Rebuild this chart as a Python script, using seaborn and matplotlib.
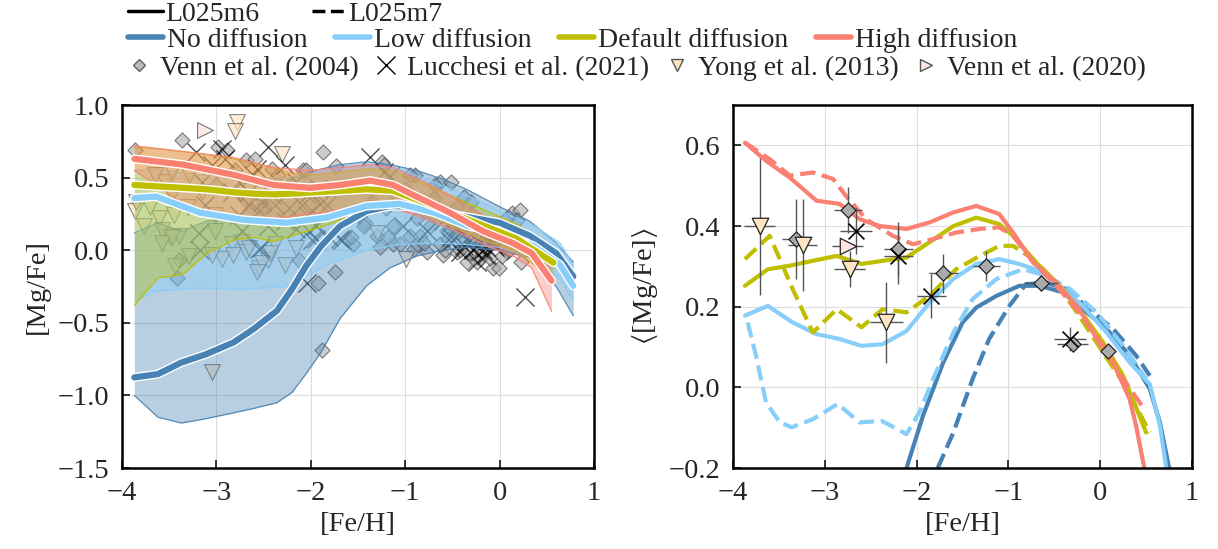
import numpy as np
import pandas as pd
import seaborn as sns
import matplotlib.pyplot as plt
import matplotlib.patheffects as pe
from matplotlib.lines import Line2D

sns.set_theme(style='ticks')
plt.rcParams['font.family'] = ['Liberation Serif', 'DejaVu Serif']
plt.rcParams['mathtext.fontset'] = 'stix'
FS = 20.5
plt.rcParams['font.size'] = FS

c_no, c_low, c_def, c_high = '#4682b4', '#87cefa', '#bfbf00', '#fa8072'

# ---------------- left panel: median + 16/84 band per model ----------------
no_x = [-3.87, -3.62, -3.37, -3.11, -2.82, -2.61, -2.36, -2.2, -2.05, -1.89, -1.69, -1.41, -1.16, -0.88, -0.6, -0.35, 0.0, 0.32, 0.6, 0.78]
no_med = [-0.876, -0.853, -0.773, -0.716, -0.635, -0.544, -0.417, -0.268, -0.108, 0.03, 0.167, 0.27, 0.305, 0.30, 0.26, 0.23, 0.19, 0.10, -0.02, -0.18]
no_lo = [-1.0, -1.15, -1.19, -1.16, -1.12, -1.09, -1.05, -0.98, -0.85, -0.70, -0.47, -0.245, -0.12, -0.04, 0.0, 0.02, 0.0, -0.05, -0.25, -0.45]
no_hi = [0.12, 0.19, 0.13, 0.2, 0.22, 0.3, 0.42, 0.5, 0.53, 0.56, 0.59, 0.61, 0.59, 0.55, 0.49, 0.42, 0.3, 0.2, 0.05, -0.08]

low_x = [-3.87, -3.64, -3.18, -2.72, -2.26, -1.83, -1.41, -1.06, -0.70, -0.35, 0.0, 0.36, 0.64, 0.78]
low_med = [0.36, 0.37, 0.26, 0.21, 0.19, 0.225, 0.305, 0.32, 0.26, 0.17, 0.12, 0.03, -0.1, -0.245]
low_lo = [-0.35, -0.28, -0.26, -0.27, -0.25, -0.1, 0.0, 0.04, 0.05, 0.04, 0.02, -0.05, -0.2, -0.35]
low_hi = [0.55, 0.56, 0.52, 0.5, 0.5, 0.55, 0.58, 0.56, 0.47, 0.38, 0.27, 0.17, 0.05, -0.1]

def_x = [-3.87, -3.62, -3.35, -3.1, -2.82, -2.6, -2.4, -2.2, -1.94, -1.41, -1.13, -0.88, -0.53, -0.17, 0.18, 0.57]
def_med = [0.45, 0.44, 0.43, 0.42, 0.40, 0.39, 0.385, 0.39, 0.40, 0.42, 0.41, 0.35, 0.26, 0.17, 0.08, -0.085]
def_lo = [-0.38, -0.19, -0.165, -0.02, 0.07, 0.09, 0.06, 0.1, 0.15, 0.27, 0.3, 0.27, 0.17, 0.07, -0.01, -0.2]
def_hi = [0.71, 0.70, 0.68, 0.66, 0.63, 0.60, 0.57, 0.53, 0.52, 0.56, 0.55, 0.48, 0.38, 0.28, 0.18, 0.02]

high_x = [-3.87, -3.35, -2.82, -2.4, -2.01, -1.69, -1.37, -1.13, -0.88, -0.53, -0.17, 0.14, 0.34, 0.55]
high_med = [0.63, 0.59, 0.52, 0.45, 0.43, 0.45, 0.48, 0.45, 0.37, 0.26, 0.13, 0.05, -0.02, -0.21]
high_lo = [0.55, 0.32, 0.2, 0.22, 0.25, 0.28, 0.30, 0.29, 0.24, 0.15, 0.04, -0.04, -0.12, -0.42]
high_hi = [0.72, 0.68, 0.64, 0.57, 0.55, 0.57, 0.59, 0.57, 0.50, 0.38, 0.24, 0.14, 0.08, -0.05]

# ---------------- left panel: observed stars ----------------
venn04_feh = [-3.36, -3.86, -2.98, -2.89, -2.69, -2.59, -2.41, -2.08, -1.87, -2.05, -1.73, -1.25, -0.90, -0.63, -0.51, -0.38, -0.30,
              -3.40, -3.42, -2.13, -1.74, -1.92, -1.88,
              -1.43, -1.30, -1.13, -1.27, -1.55, -1.62, -0.91, -0.77, -0.60, -0.45, -0.35, -0.21, -0.07,
              -1.48, -1.20, -1.13, -0.88, -0.74, -0.63, -0.56, -0.95,
              0.13, 0.22, 0.18, 0.09, 0.23, -0.01, -0.10, -0.17, -0.24, -0.31, -0.42, -0.58, 0.08, -0.19, 0.02,
              -1.66, -1.44, -1.57, -1.18, -1.06, -0.88, -0.63, -0.84, -0.72, -0.49, -0.37, -0.95, -0.68, -1.23,
              -2.7, -2.5, -2.2, -2.35, -3.0, -2.8, -0.15, -0.05, 0.05, -0.25,
              -0.8, -0.55, -0.45, -0.3, -0.12, -0.02, -1.0, -0.7, -0.4, -0.2, 0.1, -1.35, -1.1]
venn04_mgfe = [0.76, 0.69, 0.71, 0.69, 0.62, 0.63, 0.56, 0.55, 0.68, 0.55, 0.58, 0.61, 0.52, 0.47, 0.47, 0.37, 0.33,
               -0.07, -0.19, -0.07, -0.148, -0.228, -0.687,
               0.19, 0.10, 0.04, 0.02, 0.04, 0.08, 0.01, -0.01, -0.03, -0.01, -0.08, -0.06, -0.12,
               0.24, 0.29, 0.17, 0.22, 0.17, 0.24, 0.13, 0.10,
               0.254, 0.277, 0.208, 0.23, -0.079, -0.125, -0.056, -0.01, -0.08, -0.01, 0.0, 0.0, -0.01, 0.04, -0.04,
               0.24, 0.17, 0.09, 0.09, 0.04, 0.04, 0.04, 0.10, 0.24, 0.17, 0.20, 0.52, 0.45, 0.59,
               0.35, 0.30, 0.45, 0.52, 0.45, 0.55, 0.02, 0.06, 0.03, 0.05,
               0.05, 0.08, 0.3, 0.25, 0.12, 0.08, 0.42, 0.36, 0.1, 0.18, 0.0, 0.33, 0.38]

lucchesi_feh = [-3.22, -2.94, -2.91, -2.45, -2.27, -3.19, -3.17, -2.57, -2.61, -3.05, -2.76, -2.66, -2.52, -2.38, -2.23, -2.09, -1.99,
                -2.76, -2.55, -2.45, -2.27, -2.16, -2.02, -1.95, -2.55, -2.73, -3.12, -3.15, -2.83, -2.34, -2.16, -2.04, -1.92,
                -2.66, -2.41, -1.37, -1.23, -1.16, -1.90, -1.83, -2.01, -1.69, -1.02, -0.77, -2.04, -1.95,
                -0.42, -0.28, -0.14, -0.35, -0.07, -0.52, -0.24, 0.27, -0.52, -0.42, -0.31, -0.21, -0.14, -0.35, -0.52,
                -0.28, -0.10, -2.53, -2.04, -1.99, -1.81, -1.67,
                -0.6, -0.45, -0.2, -0.05, -0.38, -0.18]
lucchesi_mgfe = [0.68, 0.70, 0.63, 0.71, 0.59, 0.12, 0.0, 0.56, 0.52, 0.59, 0.47, 0.31, 0.33, 0.31, 0.29, 0.31, 0.27,
                 0.24, 0.27, 0.17, 0.20, 0.15, 0.13, 0.08, 0.01, 0.13, 0.31, 0.47, 0.40, 0.43, 0.47, 0.38, 0.43,
                 0.40, 0.38, 0.64, 0.54, 0.51, 0.32, 0.31, 0.40, 0.08, 0.17, 0.13, 0.24, 0.17,
                 -0.01, 0.01, -0.03, 0.08, 0.04, 0.06, -0.08, -0.32, 0.185, 0.116, 0.07, 0.047, 0.024, 0.139, 0.093,
                 0.0, 0.07, 0.013, -0.228, 0.07, 0.09, 0.07,
                 0.2, 0.16, 0.1, 0.02, 0.03, 0.0]

yong_feh = [-2.78, -2.80, -2.31, -3.86, -3.77, -3.61, -3.45, -3.49, -3.40, -3.58, -3.29, -3.01, -2.94, -3.05, -2.83, -2.73,
            -2.69, -2.55, -2.45, -2.27, -2.38, -3.65, -3.54, -3.47, -3.29, -3.15, -3.47, -3.01, -3.58, -3.47, -2.82,
            -2.66, -2.52, -2.57, -2.43, -2.16, -3.05, -3.44, -1.30, -0.99, -3.85, -3.70, -3.30]
yong_mgfe = [0.885, 0.82, 0.66, 0.27, 0.17, 0.22, 0.24, 0.09, 0.10, 0.14, -0.04, 0.13, -0.06, -0.03, 0.04, 0.06,
             -0.01, -0.12, -0.07, -0.10, 0.04, 0.52, 0.47, 0.54, 0.52, 0.40, 0.38, 0.24, 0.047, 0.093, -0.033,
             0.013, -0.09, -0.148, -0.02, 0.013, -0.837, -0.11, 0.116, -0.06, 0.33, 0.30, 0.30]

venn20_feh = [-3.12]
venn20_mgfe = [0.83]

# ---------------- right panel: mean [Mg/Fe] per model ----------------
r_high6_x = [-3.87, -3.64, -3.38, -3.09, -2.84, -2.62, -2.40, -2.11, -1.86, -1.60, -1.35, -1.10, -0.95, -0.73, -0.48, -0.23, -0.01, 0.14, 0.32, 0.39, 0.48]
r_high6_y = [0.607, 0.562, 0.52, 0.463, 0.455, 0.417, 0.40, 0.393, 0.409, 0.434, 0.45, 0.43, 0.384, 0.31, 0.26, 0.194, 0.11, 0.062, -0.029, -0.095, -0.2]
r_high7_x = [-3.87, -3.60, -3.38, -3.13, -2.91, -2.77, -2.55, -2.26, -2.04, -1.82, -1.57, -1.31, -1.10, -0.95, -0.73, -0.48, -0.23, 0.03, 0.25, 0.48]
r_high7_y = [0.607, 0.566, 0.525, 0.533, 0.517, 0.475, 0.417, 0.376, 0.355, 0.368, 0.384, 0.393, 0.397, 0.376, 0.31, 0.252, 0.186, 0.103, 0.021, -0.054]
r_def6_x = [-3.87, -3.62, -3.38, -3.13, -2.87, -2.60, -2.37, -2.11, -1.86, -1.60, -1.35, -1.10, -0.95, -0.70, -0.44, -0.23, 0.03, 0.25, 0.50]
r_def6_y = [0.252, 0.293, 0.302, 0.314, 0.326, 0.306, 0.314, 0.322, 0.36, 0.40, 0.421, 0.405, 0.376, 0.31, 0.252, 0.194, 0.112, 0.029, -0.112]
r_def7_x = [-3.87, -3.60, -3.35, -3.13, -2.87, -2.60, -2.37, -2.11, -1.86, -1.57, -1.31, -1.10, -0.95, -0.73, -0.48, -0.23, 0.03, 0.25, 0.54]
r_def7_y = [0.318, 0.376, 0.244, 0.136, 0.194, 0.149, 0.194, 0.186, 0.227, 0.293, 0.326, 0.351, 0.351, 0.318, 0.26, 0.178, 0.087, 0.012, -0.112]
r_low6_x = [-3.87, -3.62, -3.35, -3.09, -2.84, -2.60, -2.37, -2.11, -1.86, -1.60, -1.35, -1.10, -0.88, -0.66, -0.44, -0.19, 0.07, 0.32, 0.54, 0.65, 0.72]
r_low6_y = [0.178, 0.202, 0.161, 0.132, 0.12, 0.103, 0.107, 0.14, 0.21, 0.269, 0.306, 0.318, 0.306, 0.289, 0.252, 0.202, 0.136, 0.062, 0.008, -0.095, -0.2]
r_low7_x = [-3.84, -3.75, -3.64, -3.49, -3.36, -3.13, -2.86, -2.62, -2.38, -2.11, -1.97, -1.82, -1.60, -1.39, -1.13, -0.84, -0.59, -0.33, -0.04, 0.25, 0.50]
r_low7_y = [0.161, 0.079, -0.037, -0.087, -0.099, -0.079, -0.041, -0.087, -0.083, -0.116, -0.062, 0.021, 0.136, 0.219, 0.269, 0.293, 0.277, 0.244, 0.186, 0.103, 0.021]
r_no6_x = [-2.11, -1.93, -1.71, -1.50, -1.35, -1.13, -0.88, -0.66, -0.41, -0.19, 0.07, 0.32, 0.54, 0.65, 0.75]
r_no6_y = [-0.2, -0.07, 0.062, 0.161, 0.198, 0.227, 0.252, 0.252, 0.236, 0.194, 0.145, 0.079, -0.004, -0.087, -0.2]
r_no7_x = [-1.77, -1.60, -1.39, -1.21, -0.99, -0.81, -0.59, -0.37, -0.12, 0.14, 0.39, 0.54]
r_no7_y = [-0.2, -0.112, 0.021, 0.12, 0.202, 0.256, 0.26, 0.244, 0.194, 0.145, 0.079, 0.029]

# ---------------- right panel: observed means with errors ----------------
r_venn04_x = [-3.31, -2.75, -2.20, -1.71, -1.24, -0.64, -0.30, 0.08]
r_venn04_y = [0.368, 0.44, 0.343, 0.283, 0.302, 0.259, 0.107, 0.091]
r_venn04_xe = [0.16, 0.15, 0.16, 0.16, 0.15, 0.18, 0.17, 0.07]
r_venn04_ye = [0.10, 0.056, 0.068, 0.048, 0.037, 0.02, 0.02, 0.015]
r_luc_x = [-2.66, -2.20, -1.84, -0.33]
r_luc_y = [0.388, 0.326, 0.227, 0.12]
r_luc_xe = [0.17, 0.16, 0.16, 0.17]
r_luc_ye = [0.058, 0.07, 0.054, 0.03]
r_yong_x = [-3.71, -3.24, -2.73, -2.33]
r_yong_y = [0.40, 0.353, 0.293, 0.161]
r_yong_xe = [0.17, 0.16, 0.17, 0.18]
r_yong_ye = [0.17, 0.115, 0.045, 0.10]
r_venn20_x = [-2.75]
r_venn20_y = [0.351]
r_venn20_xe = [0.17]
r_venn20_ye = [0.0]

fig = plt.figure(figsize=(12.18, 5.49), dpi=100)
ax1 = fig.add_axes([0.1002, 0.1475, 0.3875, 0.661])
ax2 = fig.add_axes([0.6018, 0.1475, 0.3769, 0.661])

# scatter of individual stars (below the bands)
sns.scatterplot(x=venn04_feh, y=venn04_mgfe, marker='D', s=60, color='#aaaaaa', edgecolor='#333333',
                linewidth=0.8, alpha=0.6, ax=ax1, zorder=1)
sns.scatterplot(x=yong_feh, y=yong_mgfe, marker='v', s=130, color='bisque', edgecolor='#555555',
                linewidth=0.8, alpha=0.7, ax=ax1, zorder=1)
sns.scatterplot(x=venn20_feh, y=venn20_mgfe, marker='>', s=130, color='mistyrose', edgecolor='#555555',
                linewidth=0.8, alpha=0.8, ax=ax1, zorder=1)
sns.scatterplot(x=lucchesi_feh, y=lucchesi_mgfe, marker='x', s=170, color='black',
                linewidth=1.0, alpha=0.7, ax=ax1, zorder=1)

models = [(no_x, no_med, no_lo, no_hi, c_no), (low_x, low_med, low_lo, low_hi, c_low),
          (def_x, def_med, def_lo, def_hi, c_def), (high_x, high_med, high_lo, high_hi, c_high)]
for xs, med, lo, hi, col in models:
    ax1.fill_between(xs, lo, hi, color=col, alpha=0.38, lw=0, zorder=2)
    ax1.plot(xs, lo, color=col, lw=0.9, alpha=0.9, zorder=2)
    ax1.plot(xs, hi, color=col, lw=0.9, alpha=0.9, zorder=2)
halo = [pe.Stroke(linewidth=6.5, foreground='white'), pe.Normal()]
for xs, med, lo, hi, col in models:
    sns.lineplot(x=xs, y=med, color=col, lw=4.5, ax=ax1, zorder=3, path_effects=halo, legend=False)

# right panel lines
right_lines = [(r_no6_x, r_no6_y, c_no, '-'), (r_no7_x, r_no7_y, c_no, '--'),
               (r_low6_x, r_low6_y, c_low, '-'), (r_low7_x, r_low7_y, c_low, '--'),
               (r_def6_x, r_def6_y, c_def, '-'), (r_def7_x, r_def7_y, c_def, '--'),
               (r_high6_x, r_high6_y, c_high, '-'), (r_high7_x, r_high7_y, c_high, '--')]
for xs, ys, col, ls in right_lines:
    sns.lineplot(x=xs, y=ys, color=col, lw=3, linestyle=ls, ax=ax2, zorder=2, legend=False)

obs = [(r_venn04_x, r_venn04_y, r_venn04_xe, r_venn04_ye, 'D', '#aaaaaa', 60),
       (r_yong_x, r_yong_y, r_yong_xe, r_yong_ye, 'v', 'bisque', 140),
       (r_venn20_x, r_venn20_y, r_venn20_xe, r_venn20_ye, '>', 'mistyrose', 140)]
for xs, ys, xe, ye, mk, fc, s in obs:
    ax2.errorbar(xs, ys, xerr=xe, yerr=ye, fmt='none', ecolor='#555555', elinewidth=1, zorder=3)
    sns.scatterplot(x=xs, y=ys, marker=mk, s=s, color=fc, edgecolor='#222222', linewidth=0.9, ax=ax2, zorder=4)
ax2.errorbar(r_luc_x, r_luc_y, xerr=r_luc_xe, yerr=r_luc_ye, fmt='none', ecolor='#555555', elinewidth=1, zorder=3)
sns.scatterplot(x=r_luc_x, y=r_luc_y, marker='x', s=130, color='black', linewidth=1.2, ax=ax2, zorder=4)

for ax in (ax1, ax2):
    ax.set_xlim(-4, 1)
    ax.set_xticks([-4, -3, -2, -1, 0, 1])
    ax.set_xticklabels(['\u22124', '\u22123', '\u22122', '\u22121', '0', '1'])
    ax.grid(True, color='#dddddd', lw=0.8, zorder=0)
    ax.set_axisbelow(True)
    ax.tick_params(direction='in', length=6, width=1.3, labelsize=FS, pad=9)
    for sp in ax.spines.values():
        sp.set_linewidth(1.8)
        sp.set_color('black')
    ax.set_xlabel('[Fe/H]', fontsize=FS, labelpad=5)

ax1.set_ylim(-1.5, 1.0)
ax1.set_yticks([-1.5, -1.0, -0.5, 0.0, 0.5, 1.0])
ax1.set_yticklabels(['\u22121.5', '\u22121.0', '\u22120.5', '0.0', '0.5', '1.0'])
ax1.set_ylabel('[Mg/Fe]', fontsize=FS, labelpad=6)
ax2.set_ylim(-0.2, 0.7)
ax2.set_yticks([-0.2, 0.0, 0.2, 0.4, 0.6])
ax2.set_yticklabels(['\u22120.2', '0.0', '0.2', '0.4', '0.6'])
ax2.set_ylabel(r'$\langle$[Mg/Fe]$\rangle$', fontsize=FS, labelpad=6)

# legends
LFS = 20
leg_kw = dict(frameon=False, borderpad=0, borderaxespad=0, fontsize=LFS, loc='center left')
h1 = [Line2D([], [], color='black', lw=2.5, ls='-'), Line2D([], [], color='black', lw=2.5, ls='--')]
fig.legend(h1, ['L025m6', 'L025m7'], ncol=2, bbox_to_anchor=(0.105, 0.974),
           handlelength=1.25, handletextpad=0.08, columnspacing=1.9, **leg_kw)
h2 = [Line2D([], [], color=c, lw=4) for c in (c_no, c_low, c_def, c_high)]
fig.legend(h2, ['No diffusion', 'Low diffusion', 'Default diffusion', 'High diffusion'], ncol=4,
           bbox_to_anchor=(0.105, 0.927), handlelength=1.25, handletextpad=0.15, columnspacing=1.0, **leg_kw)
h3 = [Line2D([], [], ls='none', marker='D', ms=6.5, mfc='#aaaaaa', mec='#444444', alpha=0.8),
      Line2D([], [], ls='none', marker='x', ms=13, color='black', mew=1),
      Line2D([], [], ls='none', marker='v', ms=9, mfc='bisque', mec='#555555'),
      Line2D([], [], ls='none', marker='>', ms=9, mfc='mistyrose', mec='#555555')]
fig.legend(h3, ['Venn et al. (2004)', 'Lucchesi et al. (2021)', 'Yong et al. (2013)', 'Venn et al. (2020)'],
           ncol=4, bbox_to_anchor=(0.105, 0.876), handlelength=0.8, handletextpad=0.35, columnspacing=0.6, **leg_kw)

fig.savefig('out.png', dpi=100)
